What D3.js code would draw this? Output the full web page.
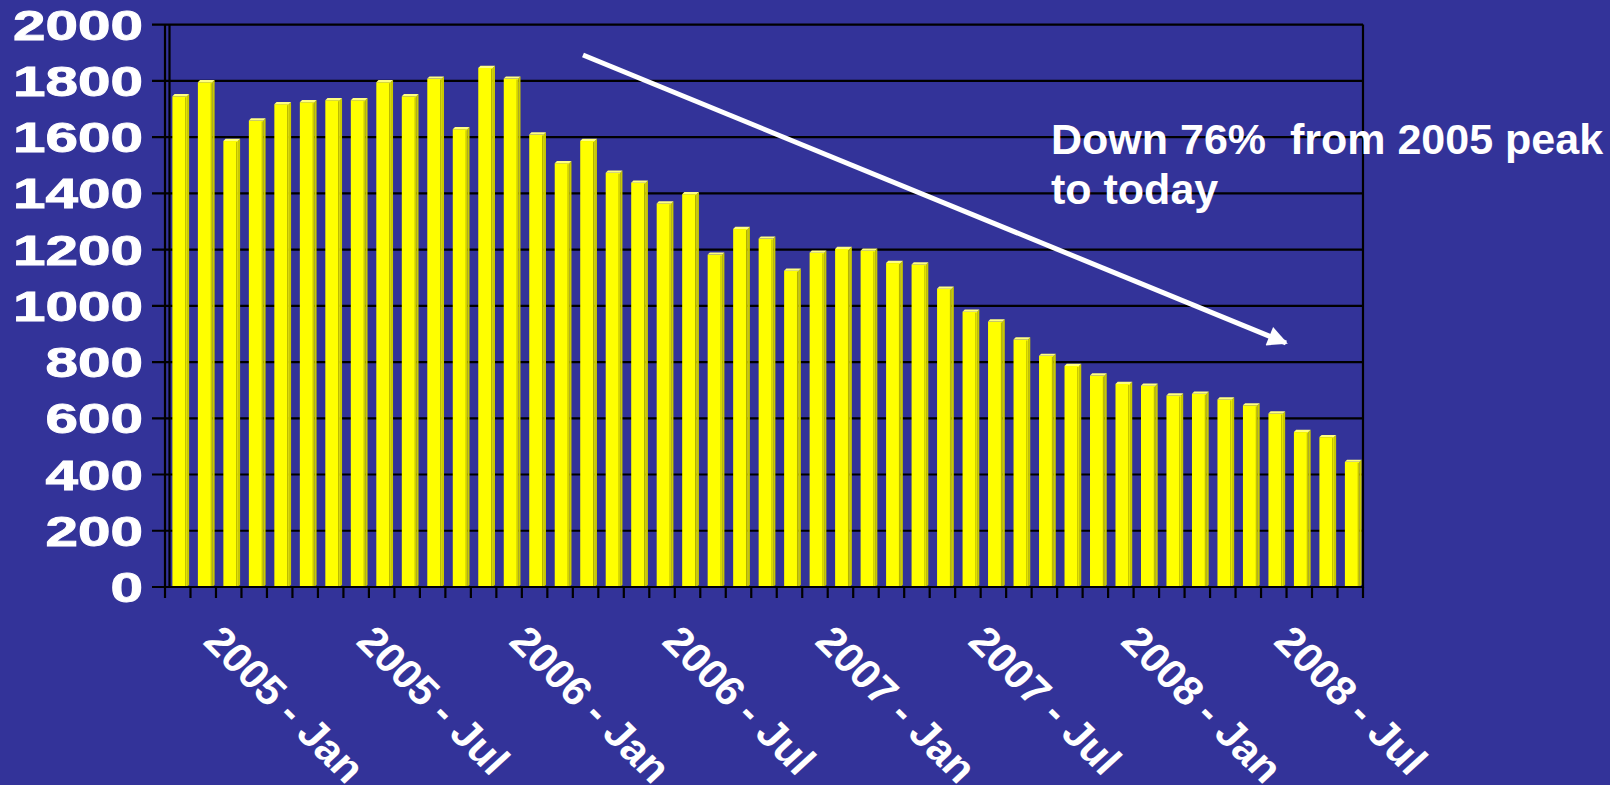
<!DOCTYPE html>
<html>
<head>
<meta charset="utf-8">
<script src="https://cdn.jsdelivr.net/npm/d3@7"></script>
<style>
  html, body { margin: 0; padding: 0; background: #333399; }
  svg { display: block; }
  text { font-family: "Liberation Sans", Arial, sans-serif; font-weight: bold; fill: #ffffff; }
</style>
</head>
<body>
<svg id="chart" width="1610" height="785"></svg>
<script>
// Monthly categories, Jan 2005 – Nov 2008
const categories = [
  "2005 - Jan","2005 - Feb","2005 - Mar","2005 - Apr","2005 - May","2005 - Jun",
  "2005 - Jul","2005 - Aug","2005 - Sep","2005 - Oct","2005 - Nov","2005 - Dec",
  "2006 - Jan","2006 - Feb","2006 - Mar","2006 - Apr","2006 - May","2006 - Jun",
  "2006 - Jul","2006 - Aug","2006 - Sep","2006 - Oct","2006 - Nov","2006 - Dec",
  "2007 - Jan","2007 - Feb","2007 - Mar","2007 - Apr","2007 - May","2007 - Jun",
  "2007 - Jul","2007 - Aug","2007 - Sep","2007 - Oct","2007 - Nov","2007 - Dec",
  "2008 - Jan","2008 - Feb","2008 - Mar","2008 - Apr","2008 - May","2008 - Jun",
  "2008 - Jul","2008 - Aug","2008 - Sep","2008 - Oct","2008 - Nov"
];

// Monthly values
const values = [
  1745, 1795, 1586, 1659, 1717, 1724, 1731, 1731, 1795, 1745, 1808, 1628,
  1846, 1808, 1609, 1507, 1586, 1473, 1438, 1364, 1397, 1182, 1273, 1239,
  1125, 1189, 1202, 1196, 1152, 1147, 1061, 979, 944, 880, 822, 786,
  752, 722, 716, 681, 687, 667, 646, 617, 551, 533, 445
];

// Labelled categories on the x axis
const xTickLabels = [
  "2005 - Jan","2005 - Jul","2006 - Jan","2006 - Jul",
  "2007 - Jan","2007 - Jul","2008 - Jan","2008 - Jul"
];

// Value axis ticks
const yTicks = [0, 200, 400, 600, 800, 1000, 1200, 1400, 1600, 1800, 2000];

// Annotation lines
const noteLines = ["Down 76%  from 2005 peak", "to today"];

const svg = d3.select("#chart");
const plotL = 165, plotR = 1363, plotT = 24.6, plotB = 587;

const x = d3.scaleBand().domain(categories).range([plotL, plotR]).paddingInner(0).paddingOuter(0);
const y = d3.scaleLinear().domain([0, 2000]).range([plotB, plotT]);

// Gridlines with their outside tick marks
svg.append("g").selectAll("line").data(yTicks).join("line")
  .attr("x1", 152).attr("x2", plotR)
  .attr("y1", d => y(d)).attr("y2", d => y(d))
  .attr("stroke", "#000").attr("stroke-width", 2.2);

// Bars with a slight 3D look (front, top and side faces)
const bw = x.bandwidth();
const off = bw * 0.29, fw = bw * 0.57, dep = 2.2;
const bars = svg.append("g").selectAll("g").data(values).join("g");
bars.append("rect")
  .attr("x", (d, i) => x(categories[i]) + off)
  .attr("y", d => y(d))
  .attr("width", fw)
  .attr("height", d => plotB - y(d))
  .attr("fill", "#ffff00");
bars.append("path")
  .attr("d", (d, i) => {
    const x0 = x(categories[i]) + off, x1 = x0 + fw, yt = y(d);
    return `M${x1},${yt}L${x1 + dep},${yt - dep}L${x1 + dep},${plotB - dep}L${x1},${plotB}Z`;
  })
  .attr("fill", "#c9c900");
bars.append("path")
  .attr("d", (d, i) => {
    const x0 = x(categories[i]) + off, x1 = x0 + fw, yt = y(d);
    return `M${x0},${yt}L${x0 + dep},${yt - dep}L${x1 + dep},${yt - dep}L${x1},${yt}Z`;
  })
  .attr("fill", "#ffff80");
bars.append("line")
  .attr("x1", (d, i) => x(categories[i]) + off + fw - 1.2)
  .attr("x2", (d, i) => x(categories[i]) + off + fw - 1.2)
  .attr("y1", d => y(d) + 1).attr("y2", plotB)
  .attr("stroke", "#b0b000").attr("stroke-width", 1);

// Frame: value axis, back wall edge, right edge, category axis
const frame = svg.append("g").attr("stroke", "#000").attr("stroke-width", 2.2);
frame.append("line").attr("x1", plotL).attr("x2", plotL).attr("y1", plotT).attr("y2", plotB + 1);
frame.append("line").attr("x1", plotL + 4.5).attr("x2", plotL + 4.5).attr("y1", plotT).attr("y2", plotB);
frame.append("line").attr("x1", plotR).attr("x2", plotR).attr("y1", plotT).attr("y2", plotB + 1);
frame.append("line").attr("x1", 152).attr("x2", plotR + 1).attr("y1", plotB).attr("y2", plotB);

// Category tick marks at band boundaries
const tickXs = categories.map(c => x(c)).concat([plotR]);
svg.append("g").selectAll("line").data(tickXs).join("line")
  .attr("x1", d => d).attr("x2", d => d)
  .attr("y1", plotB).attr("y2", plotB + 11)
  .attr("stroke", "#000").attr("stroke-width", 2.2);

// Value axis labels
svg.append("g").selectAll("text").data(yTicks).join("text")
  .attr("x", 143).attr("y", d => y(d) + 15)
  .attr("text-anchor", "end")
  .attr("font-size", 43)
  .attr("textLength", d => String(d).length * 32.5)
  .attr("lengthAdjust", "spacingAndGlyphs")
  .attr("stroke", "#fff").attr("stroke-width", 0.9)
  .text(d => d);

// Rotated category labels
svg.append("g").selectAll("text").data(xTickLabels).join("text")
  .attr("transform", d => `translate(${x(d) + bw / 2 + 24},${643}) scale(1.05,1) rotate(46)`)
  .attr("font-size", 41)
  .text(d => d);

// Trend arrow
svg.append("defs").append("marker")
  .attr("id", "head").attr("viewBox", "0 0 10 10")
  .attr("refX", 9).attr("refY", 5)
  .attr("markerWidth", 5).attr("markerHeight", 4)
  .attr("markerUnits", "strokeWidth")
  .attr("orient", "auto")
  .append("path").attr("d", "M0,0L10,5L0,10Z").attr("fill", "#fff");
svg.append("line")
  .attr("x1", 583).attr("y1", 55).attr("x2", 1286).attr("y2", 343)
  .attr("stroke", "#fff").attr("stroke-width", 5)
  .attr("marker-end", "url(#head)");

// Annotation (keeps the double space)
svg.append("g").selectAll("text").data(noteLines).join("text")
  .attr("x", 1051).attr("y", (d, i) => 154 + i * 50)
  .attr("font-size", 43)
  .style("white-space", "pre")
  .attr("xml:space", "preserve")
  .text(d => d);
</script>
</body>
</html>
